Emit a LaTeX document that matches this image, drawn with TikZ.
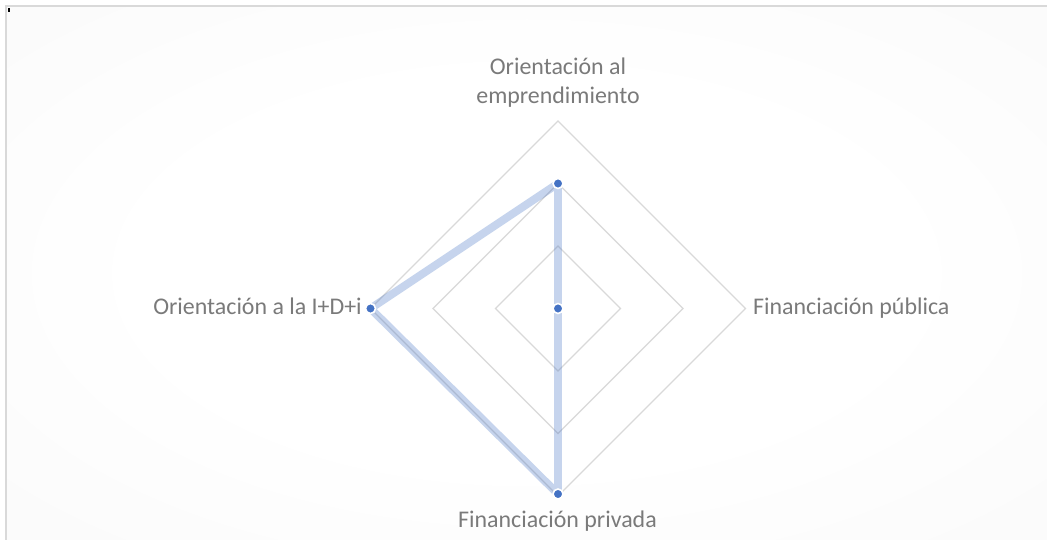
\documentclass[tikz,border=0pt]{standalone}
\usepackage{fontspec}
\setmainfont{Carlito}
\definecolor{gridgray}{RGB}{217,217,217}
\definecolor{labgray}{RGB}{122,122,122}
\definecolor{serblue}{RGB}{68,114,196}
\definecolor{edgegray}{RGB}{241,241,241}
\pgfdeclareradialshading{chartbg}{\pgfpoint{0bp}{0bp}}{color(0bp)=(white); color(18bp)=(white); color(72bp)=(edgegray)}
\tikzset{
  ring/.style={draw=gridgray, line width=1.4pt},
  band/.style={draw=serblue, draw opacity=0.3, line width=8pt, line join=round},
  dot/.style={circle, fill=serblue, draw=white, line width=1.6pt, minimum size=10pt, inner sep=0pt},
  lab/.style={text=labgray, font=\fontsize{24}{29}\selectfont, inner sep=0pt}
}
\begin{document}
\begin{tikzpicture}[x=1bp, y=-1bp]
\useasboundingbox (0,0) rectangle (1047,540);
\fill[white] (0,0) rectangle (1047,540);
\shade[shading=chartbg] (6,6) rectangle (1047,540);
\draw[gridgray, line width=1.2pt] (6,546) -- (6,6) -- (1050,6);
\fill[black] (8,8) rectangle (10,12);
% grid
\coordinate (c) at (558,308.5);
\foreach \r in {62.5,125,187.5}{
  \draw[ring] ([yshift=-\r bp]c) -- ([xshift=\r bp]c) -- ([yshift=\r bp]c) -- ([xshift=-\r bp]c) -- cycle;
}
% data points
\node[dot] (top) at (558,183.5) {};
\node[dot] (rgt) at (558,308.5) {};
\node[dot] (bot) at (558,494) {};
\node[dot] (lft) at (370.5,308.5) {};
\draw[band] (top.center) -- (rgt.center) -- (bot.center) -- (lft.center) -- cycle;
\node[dot] at (top) {};
\node[dot] at (rgt) {};
\node[dot] at (bot) {};
\node[dot] at (lft) {};
% labels
\node[lab, anchor=base] (l1) at (558,75) {Orientación al};
\node[lab, anchor=base] (l1b) at (558,104) {emprendimiento};
\node[lab, anchor=base west] (l2) at (753,315) {Financiación pública};
\node[lab, anchor=base] (l3) at (557.5,527) {Financiación privada};
\node[lab, anchor=base east] (l4) at (362,315) {Orientación a la I+D+i};
\end{tikzpicture}
\end{document}
